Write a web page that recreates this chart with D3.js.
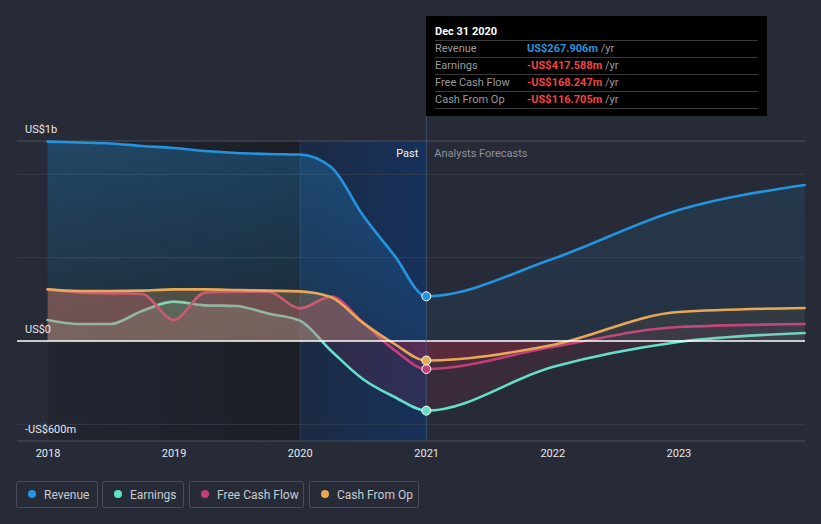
<!DOCTYPE html>
<html><head><meta charset="utf-8">
<script src="https://cdn.jsdelivr.net/npm/d3@7"></script>
<style>
html,body{margin:0;padding:0;background:#262b37;}
svg{display:block;font-family:Roboto,"Noto Sans",sans-serif;}
</style></head>
<body>
<svg id="c" width="821" height="524"></svg>
<script>
// ---- data ----
const dates = ["2017-12-31","2018-03-31","2018-06-30","2018-09-30","2018-12-31","2019-03-31","2019-06-30","2019-09-30","2019-12-31","2020-03-31","2020-06-30","2020-09-30","2020-12-31","2021-12-31","2022-12-31","2023-12-31"];
const revenue   = [1196,1191,1185,1170,1158,1140,1128,1122,1119,1042,756,512,268, 492,786,936];
const earnings  = [126,102,102,180,236,214,210,165,122,-60,-228,-336,-418, -156,-6,48];
const freeCash  = [310,292,286,282,126,290,296,296,196,266,112,-55,-168, -36,84,102];
const cashOp    = [310,300,300,302,310,310,306,302,298,262,110,-18,-117, -24,174,198];
const seriesNames = ["Revenue","Earnings","Free Cash Flow","Cash From Op"];
const seriesColors = ["#2394df","#62e0cc","#c0417a","#e8a857"];
const yTickValues = [1200,0,-600];
const yTickLabels = ["US$1b","US$0","-US$600m"];
const gridValues = [1000,500,-500];
const xTickYears = [2018,2019,2020,2021,2022,2023];
const tipTitle = "Dec 31 2020";
const tipValues = ["US$267.906m","-US$417.588m","-US$168.247m","-US$116.705m"];

const svg = d3.select("#c");
const W = 821, H = 524;
const parse = d3.timeParse("%Y-%m-%d");
const D = dates.map(parse);
const x = d3.scaleTime().domain([new Date(2018,0,1), new Date(2024,0,1)]).range([48,805]);
const y = d3.scaleLinear().domain([-600,1200]).range([441,141]);
const left = 17, right = 805;
const nowDate = parse("2020-12-31");
const xNow = x(nowDate), x2020 = x(new Date(2020,0,1)), x2018 = x(new Date(2018,0,1));

const defs = svg.append("defs");
const g1 = defs.append("linearGradient").attr("id","pastG").attr("x1","0").attr("x2","1").attr("y1","0").attr("y2","0");
g1.append("stop").attr("offset","0").attr("stop-color","#000").attr("stop-opacity",0.12);
g1.append("stop").attr("offset","1").attr("stop-color","#000").attr("stop-opacity",0.3);
const g2 = defs.append("linearGradient").attr("id","recentG").attr("x1","0").attr("x2","1").attr("y1","0").attr("y2","0");
g2.append("stop").attr("offset","0").attr("stop-color","#1b2a43");
g2.append("stop").attr("offset","1").attr("stop-color","#17315b");
// vertical gradients for revenue area
function vgrad(id,color,top,bottom){
  const g = defs.append("linearGradient").attr("id",id).attr("gradientUnits","userSpaceOnUse")
    .attr("x1",0).attr("x2",0).attr("y1",y(1200)).attr("y2",y(0));
  g.append("stop").attr("offset","0").attr("stop-color",color).attr("stop-opacity",top);
  g.append("stop").attr("offset","1").attr("stop-color",color).attr("stop-opacity",bottom);
}
vgrad("revPast",seriesColors[0],0.3,0.08);
vgrad("revFut",seriesColors[0],0.14,0.06);

function clip(id,x0,x1,y0,y1){
  defs.append("clipPath").attr("id",id).append("rect").attr("x",x0).attr("y",y0).attr("width",x1-x0).attr("height",y1-y0);
}
clip("pastPos",0,xNow,0,y(0));
clip("pastNeg",0,xNow,y(0),H);
clip("futPos",xNow,W,0,y(0));
clip("futNeg",xNow,W,y(0),H);

svg.append("rect").attr("width",W).attr("height",H).attr("fill","#262b37");
// past shading
svg.append("rect").attr("x",x2018).attr("y",141).attr("width",x2020-x2018).attr("height",300).attr("fill","url(#pastG)");
svg.append("rect").attr("x",x2020).attr("y",141).attr("width",xNow-x2020).attr("height",300).attr("fill","url(#recentG)");

// grid
svg.append("g").selectAll("line").data(gridValues).join("line")
  .attr("x1",left).attr("x2",right).attr("y1",d=>y(d)).attr("y2",d=>y(d))
  .attr("stroke","#3a404c").attr("stroke-width",1).attr("opacity",0.8);
svg.append("line").attr("x1",left).attr("x2",right).attr("y1",y(1200)).attr("y2",y(1200)).attr("stroke","#4a505b");
svg.append("line").attr("x1",left).attr("x2",right).attr("y1",y(-600)).attr("y2",y(-600)).attr("stroke","#4a505b");
svg.append("line").attr("x1",x2020).attr("x2",x2020).attr("y1",141).attr("y2",441).attr("stroke","#2c3a55").attr("stroke-width",1);

const all = [revenue,earnings,freeCash,cashOp];
const pastA = [0.25,0.2,0.25,0.25], futA=[0.1,0.05,0.07,0.07];
const area = d3.area().x((d,i)=>x(D[i])).y0(y(0)).y1(d=>y(d)).curve(d3.curveMonotoneX);
const line = d3.line().x((d,i)=>x(D[i])).y(d=>y(d)).curve(d3.curveMonotoneX);

all.forEach((vals,k)=>{
  const g = svg.append("g");
  if(k===0){
    g.append("path").attr("d",area(vals)).attr("fill","url(#revPast)").attr("clip-path","url(#pastPos)");
    g.append("path").attr("d",area(vals)).attr("fill","url(#revFut)").attr("clip-path","url(#futPos)");
  } else {
    g.append("path").attr("d",area(vals)).attr("fill",seriesColors[k]).attr("fill-opacity",pastA[k]).attr("clip-path","url(#pastPos)");
    g.append("path").attr("d",area(vals)).attr("fill",seriesColors[k]).attr("fill-opacity",futA[k]).attr("clip-path","url(#futPos)");
  }
  g.append("path").attr("d",area(vals)).attr("fill","#d72d50").attr("fill-opacity",0.12).attr("clip-path","url(#pastNeg)");
  g.append("path").attr("d",area(vals)).attr("fill","#d72d50").attr("fill-opacity",0.11).attr("clip-path","url(#futNeg)");
  g.append("path").attr("d",line(vals)).attr("fill","none").attr("stroke",seriesColors[k]).attr("stroke-width",2.6).attr("stroke-linecap","round");
});

// zero line
svg.append("line").attr("x1",left).attr("x2",right).attr("y1",y(0)).attr("y2",y(0)).attr("stroke","#ffffff").attr("stroke-width",1.3);

// now line
svg.append("line").attr("x1",xNow).attr("x2",xNow).attr("y1",116).attr("y2",441).attr("stroke","#4b6283").attr("stroke-width",1).attr("opacity",0.7);

// points
const ni = dates.indexOf("2020-12-31");
all.forEach((vals,k)=>{
  svg.append("circle").attr("cx",x(D[ni])).attr("cy",y(vals[ni])).attr("r",4.5)
    .attr("fill",seriesColors[k]).attr("stroke","#ffffff").attr("stroke-width",1);
});

// y labels
svg.append("g").selectAll("text").data(yTickValues).join("text")
  .attr("x",25).attr("y",d=>y(d)-8).text((d,i)=>yTickLabels[i])
  .attr("fill","#e6e8eb").attr("font-size",11);
// x labels
svg.append("g").selectAll("text").data(xTickYears).join("text")
  .attr("x",d=>x(new Date(d,0,1))).attr("y",457).attr("text-anchor","middle").text(d=>d)
  .attr("fill","#e6e8eb").attr("font-size",11);

svg.append("text").attr("x",xNow-8).attr("y",157).attr("text-anchor","end").text("Past").attr("fill","#f0f0f0").attr("font-size",11);
svg.append("text").attr("x",xNow+8).attr("y",157).text("Analysts Forecasts").attr("fill","#8d929b").attr("font-size",11);

// tooltip
const tip = svg.append("g");
tip.append("rect").attr("x",426).attr("y",16).attr("width",341).attr("height",100).attr("fill","#000");
tip.append("text").attr("x",435).attr("y",35).text(tipTitle).attr("fill","#fff").attr("font-size",11).attr("font-weight","bold");
const rowY = [52,69,86,103];
[40.5,57.5,74.5,91.5,108.5].forEach(v=>tip.append("line").attr("x1",435).attr("x2",758).attr("y1",v).attr("y2",v).attr("stroke","#3a3a3a"));
seriesNames.forEach((n,i)=>{
  tip.append("text").attr("x",435).attr("y",rowY[i]).text(n).attr("fill","#9a9a9a").attr("font-size",11);
  const t = tip.append("text").attr("x",527).attr("y",rowY[i]).attr("font-size",11);
  t.append("tspan").text(tipValues[i]).attr("fill", tipValues[i].startsWith("-")?"#f04444":"#2394df").attr("font-weight","bold");
  t.append("tspan").text(" /yr").attr("fill","#9a9a9a");
});

// legend
const lg = svg.append("g");
const boxX=[16,102,189,309], boxW=[82,82,115,110];
seriesNames.forEach((n,i)=>{
  lg.append("rect").attr("x",boxX[i]+0.5).attr("y",481.5).attr("width",boxW[i]-1).attr("height",26).attr("rx",2)
    .attr("fill","none").attr("stroke","#4a505b");
  lg.append("circle").attr("cx",boxX[i]+16).attr("cy",494).attr("r",4).attr("fill",seriesColors[i]);
  lg.append("text").attr("x",boxX[i]+28).attr("y",498.5).text(n).attr("fill","#c9ccd1").attr("font-size",12);
});
</script>
</body></html>
